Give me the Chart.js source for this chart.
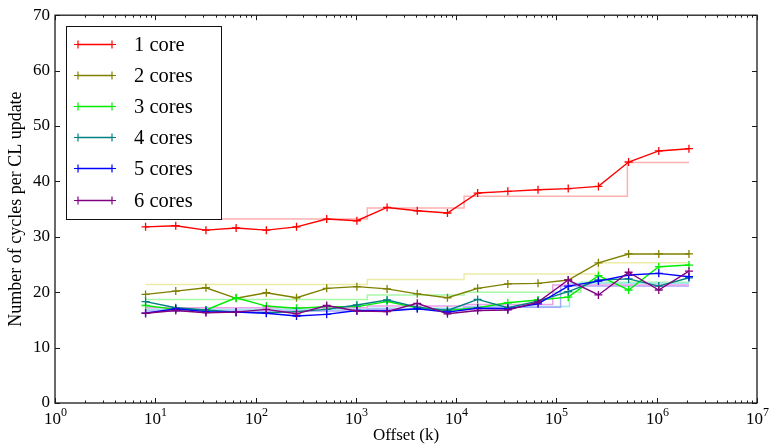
<!DOCTYPE html>
<html>
<head>
<meta charset="utf-8">
<script src="https://cdn.jsdelivr.net/npm/chart.js@4.4.1/dist/chart.umd.min.js"></script>
<style>
  html, body { margin: 0; padding: 0; background: #fff; }
  #wrap { width: 770px; height: 448px; }
</style>
</head>
<body>
<div id="wrap"><canvas id="cyclesChart" width="770" height="448"></canvas></div>
<script>
// offsets (k) where each run was measured
const offsets = [8, 16, 32, 64, 128, 256, 512, 1024, 2048, 4096, 8192, 16384,
                 32768, 65536, 131072, 262144, 524288, 1048576, 2097152];

const seriesNames = ['1 core', '2 cores', '3 cores', '4 cores', '5 cores', '6 cores'];

// measured cycles per cache line update
const core1 = [31.8, 32.0, 31.2, 31.6, 31.2, 31.8, 33.2, 32.9, 35.3, 34.7, 34.3, 37.9, 38.2, 38.5, 38.7, 39.1, 43.5, 45.5, 45.9];
const core2 = [19.6, 20.2, 20.8, 18.9, 19.9, 19.0, 20.7, 21.0, 20.6, 19.7, 19.0, 20.7, 21.5, 21.6, 22.2, 25.3, 26.9, 26.9, 26.9];
const core3 = [17.6, 16.9, 16.8, 19.0, 17.5, 17.1, 17.4, 17.4, 18.3, 17.2, 16.7, 17.2, 18.1, 18.6, 19.1, 23.0, 20.4, 24.6, 24.9];
const core4 = [18.3, 17.2, 16.8, 16.4, 16.3, 16.5, 16.9, 17.7, 18.6, 17.3, 16.7, 18.7, 17.2, 18.4, 20.1, 22.2, 22.4, 21.1, 22.6];
const core5 = [16.2, 17.0, 16.5, 16.4, 16.2, 15.7, 16.0, 16.7, 16.6, 17.0, 16.4, 17.1, 17.0, 17.9, 21.1, 22.0, 23.1, 23.4, 22.8];
const core6 = [16.2, 16.7, 16.3, 16.4, 16.9, 16.1, 17.6, 16.6, 16.5, 18.0, 16.1, 16.7, 16.8, 18.2, 22.2, 19.5, 23.6, 20.4, 23.8];

// model estimate (piecewise constant), breakpoints in k
const core1StepX = [8, 1300, 12000, 510000, 2097152];
const core1StepY = [33.2, 35.2, 37.3, 43.4, 43.4];
const core2StepX = [8, 1300, 12000, 262144, 2097152];
const core2StepY = [21.4, 22.3, 23.3, 25.3, 25.3];
const core3StepX = [8, 1300, 12000, 175000, 2097152];
const core3StepY = [18.7, 19.5, 20.0, 21.8, 21.8];
const core4StepX = [8, 1300, 12000, 135000, 2097152];
const core4StepY = [16.9, 17.1, 17.4, 21.6, 21.6];
const core5StepX = [8, 1300, 12000, 110000, 2097152];
const core5StepY = [16.6, 16.9, 17.3, 21.1, 21.1];
const core6StepX = [8, 1300, 12000, 92000, 2097152];
const core6StepY = [17.2, 17.5, 17.8, 21.3, 21.3];

const yTicks = [0, 10, 20, 30, 40, 50, 60, 70];
const xDecades = [0, 1, 2, 3, 4, 5, 6, 7];

const measured = [core1, core2, core3, core4, core5, core6];
const stepXs = [core1StepX, core2StepX, core3StepX, core4StepX, core5StepX, core6StepX];
const stepYs = [core1StepY, core2StepY, core3StepY, core4StepY, core5StepY, core6StepY];

const lineColors = ['#ff0000', '#808000', '#00ee00', '#008080', '#0000ff', '#800080'];
const stepColors = ['#ffb0b0', '#ececa8', '#a8f8a8', '#a0e8f0', '#a8a8ff', '#eca0ec'];

const SERIF = "'Liberation Serif', 'Times New Roman', serif";

const datasets = [];
measured.forEach((vals, i) => {
    datasets.push({
        label: seriesNames[i],
        data: offsets.map((x, j) => ({ x: x, y: vals[j] })),
        borderColor: lineColors[i],
        backgroundColor: lineColors[i],
        borderWidth: 1.4,
        pointStyle: 'cross',
        pointRadius: 4,
        pointBorderWidth: 1.3,
        pointHoverRadius: 4,
        tension: 0,
        order: 6 - i
    });
});
stepXs.forEach((xs, i) => {
    datasets.push({
        label: seriesNames[i] + ' model',
        data: xs.map((x, j) => ({ x: x, y: stepYs[i][j] })),
        borderColor: stepColors[i],
        borderWidth: 1.5,
        pointRadius: 0,
        stepped: true,
        order: 20 - i
    });
});

function drawCross(ctx, x, y, r) {
    ctx.beginPath();
    ctx.moveTo(x - r, y); ctx.lineTo(x + r, y);
    ctx.moveTo(x, y - r); ctx.lineTo(x, y + r);
    ctx.stroke();
}

// axes frame with inward ticks, log labels with superscripts
const framePlugin = {
    id: 'frame',
    afterDatasetsDraw(chart) {
        const { ctx, chartArea: a, scales: { x, y } } = chart;
        ctx.save();
        ctx.strokeStyle = '#1a1a1a';
        ctx.lineWidth = 1.3;
        ctx.strokeRect(a.left, a.top, a.right - a.left, a.bottom - a.top);

        ctx.lineWidth = 1;
        yTicks.forEach(v => {
            const py = Math.round(y.getPixelForValue(v)) + 0.5;
            ctx.beginPath();
            ctx.moveTo(a.left, py); ctx.lineTo(a.left + 5, py);
            ctx.moveTo(a.right, py); ctx.lineTo(a.right - 5, py);
            ctx.stroke();
        });

        xDecades.forEach(e => {
            const px = Math.round(x.getPixelForValue(Math.pow(10, e))) + 0.5;
            ctx.beginPath();
            ctx.moveTo(px, a.bottom); ctx.lineTo(px, a.bottom - 5);
            ctx.moveTo(px, a.top); ctx.lineTo(px, a.top + 5);
            ctx.stroke();
            if (e < 7) {
                for (let m = 2; m <= 9; m++) {
                    const mx = Math.round(x.getPixelForValue(m * Math.pow(10, e))) + 0.5;
                    ctx.beginPath();
                    ctx.moveTo(mx, a.bottom); ctx.lineTo(mx, a.bottom - 2.5);
                    ctx.moveTo(mx, a.top); ctx.lineTo(mx, a.top + 2.5);
                    ctx.stroke();
                }
            }

            // "10" with raised exponent
            ctx.fillStyle = '#000';
            ctx.textBaseline = 'alphabetic';
            ctx.font = '17px ' + SERIF;
            const base = '10';
            const wb = ctx.measureText(base).width;
            ctx.font = '12px ' + SERIF;
            const exp = String(e);
            const we = ctx.measureText(exp).width;
            const x0 = px - (wb + we) / 2;
            ctx.font = '17px ' + SERIF;
            ctx.textAlign = 'left';
            ctx.fillText(base, x0, a.bottom + 21);
            ctx.font = '12px ' + SERIF;
            ctx.fillText(exp, x0 + wb, a.bottom + 13);
        });
        ctx.restore();
    }
};

// boxed legend in the upper left corner
const legendPlugin = {
    id: 'boxLegend',
    afterDraw(chart) {
        const ctx = chart.ctx;
        const box = { x: 66, y: 26, w: 155, h: 193 };
        ctx.save();
        ctx.fillStyle = '#fff';
        ctx.fillRect(box.x, box.y, box.w, box.h);
        ctx.strokeStyle = '#111';
        ctx.lineWidth = 1;
        ctx.strokeRect(box.x + 0.5, box.y + 0.5, box.w, box.h);

        ctx.font = '20.5px ' + SERIF;
        ctx.textBaseline = 'middle';
        ctx.textAlign = 'left';
        seriesNames.forEach((name, i) => {
            const ry = Math.round(43.5 + i * 31.2) + 0.5;
            ctx.strokeStyle = lineColors[i];
            ctx.lineWidth = 1.4;
            ctx.beginPath();
            ctx.moveTo(78, ry); ctx.lineTo(112, ry);
            ctx.stroke();
            ctx.lineWidth = 1.2;
            drawCross(ctx, 78, ry, 4);
            drawCross(ctx, 112, ry, 4);
            ctx.fillStyle = '#000';
            ctx.fillText(name, 134, ry + 1);
        });
        ctx.restore();
    }
};

new Chart(document.getElementById('cyclesChart'), {
    type: 'line',
    data: { datasets: datasets },
    plugins: [framePlugin, legendPlugin],
    options: {
        responsive: false,
        devicePixelRatio: 1,
        animation: false,
        layout: { padding: { top: 15, right: 13, left: 0, bottom: 0 } },
        plugins: {
            legend: { display: false },
            tooltip: { enabled: false }
        },
        scales: {
            x: {
                type: 'logarithmic',
                min: 1,
                max: 1e7,
                grid: { display: false },
                border: { display: false },
                ticks: { display: false },
                afterFit: s => { s.height = 45; },
                title: {
                    display: true,
                    text: 'Offset (k)',
                    color: '#000',
                    font: { family: SERIF, size: 17 },
                    padding: { top: 0, bottom: 2 }
                }
            },
            y: {
                type: 'linear',
                min: 0,
                max: 70,
                grid: { display: false, drawTicks: false },
                border: { display: false },
                ticks: {
                    stepSize: 10,
                    color: '#000',
                    padding: 5,
                    font: { family: SERIF, size: 17 }
                },
                afterFit: s => { s.width = 55; },
                title: {
                    display: true,
                    text: 'Number of cycles per CL update',
                    color: '#000',
                    font: { family: SERIF, size: 18 },
                    padding: { top: 5, bottom: 0 }
                }
            }
        }
    }
});
</script>
</body>
</html>
